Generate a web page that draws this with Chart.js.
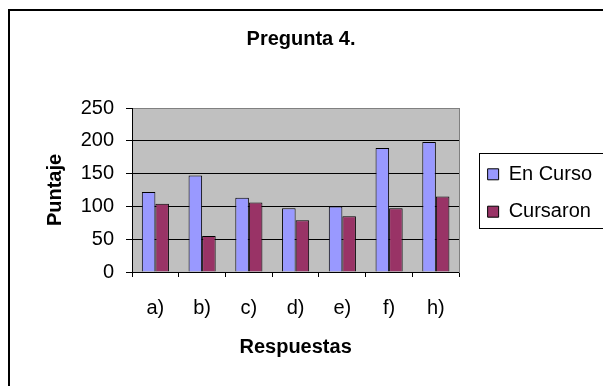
<!DOCTYPE html>
<html>
<head>
<meta charset="utf-8">
<script src="https://cdn.jsdelivr.net/npm/chart.js@4"></script>
<style>
  html, body { margin: 0; padding: 0; background: #fff; }
  #wrap { width: 603px; height: 386px; }
</style>
</head>
<body>
<div id="wrap"><canvas id="chart" width="603" height="386"></canvas></div>
<script>
const categories = ['a)', 'b)', 'c)', 'd)', 'e)', 'f)', 'h)'];
const enCurso = [122, 147, 113, 97, 100, 189, 198];
const cursaron = [104, 55, 106, 79, 85, 97, 115];
const yTicks = [0, 50, 100, 150, 200, 250];

Chart.defaults.font.family = '"Liberation Sans", Arial, sans-serif';
Chart.defaults.color = '#000';

// white page, outer frame, grey plot background, legend frame
const framePlugin = {
    id: 'frame',
    beforeDraw(chart) {
        const ctx = chart.ctx;
        const a = chart.chartArea;
        ctx.save();
        ctx.fillStyle = '#fff';
        ctx.fillRect(0, 0, chart.width, chart.height);
        ctx.fillStyle = '#c0c0c0';
        ctx.fillRect(a.left, a.top, a.right - a.left, a.bottom - a.top);
        ctx.restore();
    },
    afterDraw(chart) {
        const ctx = chart.ctx;
        ctx.save();
        ctx.strokeStyle = '#000';
        ctx.lineWidth = 2;
        ctx.strokeRect(9, 10, 700, 500);
        const hb = chart.legend.legendHitBoxes;
        if (hb && hb.length) {
            const top = Math.round(hb[0].top - 11) + 0.5;
            const bottom = Math.round(hb[1].top + 26) + 0.5;
            const left = Math.round(hb[0].left - 9) + 0.5;
            ctx.lineWidth = 1;
            ctx.strokeRect(left, top, 300, bottom - top);
        }
        ctx.restore();
    }
};

new Chart(document.getElementById('chart'), {
    type: 'bar',
    data: {
        labels: categories,
        datasets: [{
            label: 'En Curso',
            data: enCurso,
            backgroundColor: '#9999ff',
            borderColor: '#000',
            borderWidth: 1
        }, {
            label: 'Cursaron',
            data: cursaron,
            backgroundColor: '#993366',
            borderColor: '#000',
            borderWidth: 1
        }]
    },
    options: {
        responsive: false,
        animation: false,
        layout: { padding: { left: 0, top: 0, right: 1, bottom: 0 } },
        datasets: {
            bar: { categoryPercentage: 0.58, barPercentage: 1 }
        },
        scales: {
            x: {
                grid: { display: true, drawOnChartArea: false, drawTicks: true, tickLength: 5, color: '#000', offset: true },
                border: { display: true, color: '#000', width: 1 },
                ticks: { font: { size: 20 }, padding: 19, color: '#000' },
                title: { display: true, text: 'Respuestas', font: { size: 20, weight: 'bold' }, padding: { top: 0, bottom: 27 } },
                afterFit: (scale) => { scale.height = 114; }
            },
            y: {
                min: 0,
                max: 250,
                afterBuildTicks: (scale) => { scale.ticks = yTicks.map(v => ({ value: v })); },
                grid: {
                    color: (ctx) => (ctx.tick && ctx.tick.value === 250 ? '#808080' : '#000'),
                    tickColor: '#000',
                    tickLength: 6
                },
                border: { display: true, color: '#000', width: 1 },
                ticks: { font: { size: 20 }, padding: 12, color: '#000' },
                title: { display: true, text: 'Puntaje', font: { size: 20, weight: 'bold' }, padding: { top: 43, bottom: 0 } },
                afterFit: (scale) => { scale.width = 132; }
            },
            y2: {
                position: 'right',
                display: true,
                grid: { display: false, drawTicks: false },
                border: { display: true, color: '#808080', width: 1 },
                ticks: { display: false },
                afterFit: (scale) => { scale.width = 11; }
            }
        },
        plugins: {
            title: {
                display: true,
                text: 'Pregunta 4.',
                font: { size: 20, weight: 'bold' },
                color: '#000',
                padding: { top: 27, bottom: 57 }
            },
            legend: {
                position: 'right',
                align: 'center',
                maxWidth: 220,
                labels: {
                    boxWidth: 11,
                    boxHeight: 11,
                    padding: 17.4,
                    font: { size: 20 },
                    color: '#000'
                }
            },
            tooltip: { enabled: false }
        }
    },
    plugins: [framePlugin]
});
</script>
</body>
</html>
